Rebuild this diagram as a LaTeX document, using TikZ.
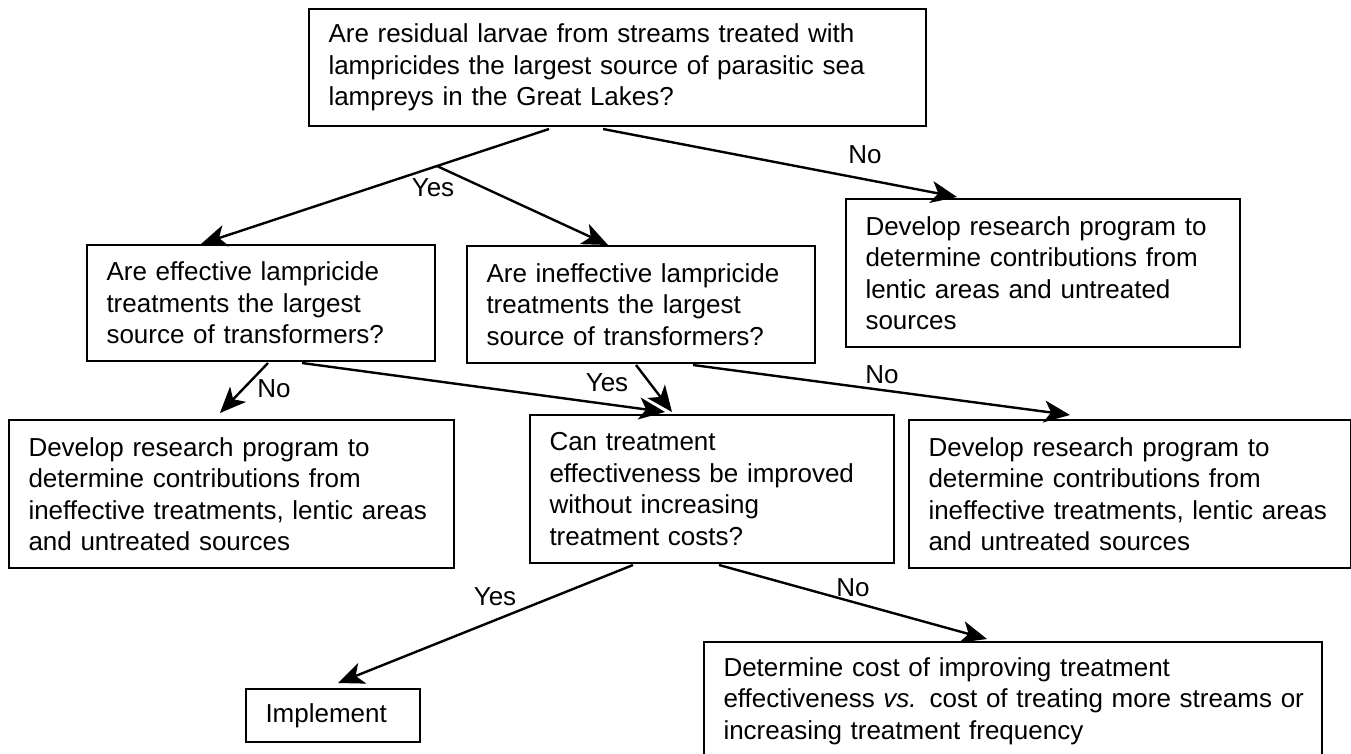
\documentclass[tikz,border=0pt]{standalone}
\usepackage{fontspec}
\setmainfont{Liberation Sans}
\usetikzlibrary{arrows.meta,calc}
\begin{document}
\begin{tikzpicture}[x=1pt,y=-1pt,
  box/.style={draw,line width=2pt,anchor=north west,inner xsep=19.5pt,inner ysep=0pt,
    align=left,font=\fontsize{26}{31.5}\selectfont},
  lbl/.style={font=\fontsize{26}{31.5}\selectfont,inner sep=0pt},
  arr/.style={line width=2.4pt,-{Stealth[length=26pt,width=22pt,inset=7pt]}}]
\useasboundingbox (0,0) rectangle (1351,754);
% boxes
\node[box,minimum width=617pt,minimum height=117pt,text width=578pt] (q1) at (308,8)
  {\mbox{Are residual larvae from streams treated with}\\
   \mbox{lampricides the largest source of parasitic sea}\\
   \mbox{lampreys in the Great Lakes?}};
\node[box,minimum width=394pt,minimum height=148pt,text width=355pt] (d1) at (845,198)
  {\mbox{Develop research program to}\\
   \mbox{determine contributions from}\\
   \mbox{lentic areas and untreated}\\
   \mbox{sources}};
\node[box,minimum width=348pt,minimum height=116pt,text width=309pt] (q2) at (86,244)
  {\mbox{Are effective lampricide}\\
   \mbox{treatments the largest}\\
   \mbox{source of transformers?}};
\node[box,minimum width=348pt,minimum height=117pt,text width=309pt] (q3) at (466,245)
  {\mbox{Are ineffective lampricide}\\
   \mbox{treatments the largest}\\
   \mbox{source of transformers?}};
\node[box,minimum width=445pt,minimum height=148pt,text width=406pt] (d2) at (8,419)
  {\mbox{Develop research program to}\\
   \mbox{determine contributions from}\\
   \mbox{ineffective treatments, lentic areas}\\
   \mbox{and untreated sources}};
\node[box,minimum width=364pt,minimum height=148pt,text width=325pt] (q4) at (529,414)
  {\mbox{Can treatment}\\
   \mbox{effectiveness be improved}\\
   \mbox{without increasing}\\
   \mbox{treatment costs?}};
\node[box,minimum width=442pt,minimum height=148pt,text width=403pt] (d3) at (908,419)
  {\mbox{Develop research program to}\\
   \mbox{determine contributions from}\\
   \mbox{ineffective treatments, lentic areas}\\
   \mbox{and untreated sources}};
\node[box,minimum width=174pt,minimum height=53pt,text width=135pt] (impl) at (245,688)
  {\mbox{Implement}};
\node[box,minimum width=618pt,minimum height=118pt,text width=579pt] (det) at (703,641)
  {\mbox{Determine cost of improving treatment}\\
   \mbox{effectiveness \textit{vs.} cost of treating more streams or}\\
   \mbox{increasing treatment frequency}};
% connectors
\coordinate (ys) at ([xshift=241pt,yshift=-2pt]q1.south west);
\coordinate (ye) at ([xshift=115pt]q2.north west);
\draw[arr] (ys) -- (ye);
\coordinate (br) at ($(ys)!0.322!(ye)$);
\draw[arr] (br) -- ([xshift=142pt]q3.north west);
\node[lbl] (l1) at (433,188) {Yes};
\draw[arr] ([xshift=295pt,yshift=-2pt]q1.south west) -- ([xshift=112pt,yshift=1pt]d1.north west);
\node[lbl] (l2) at (865,155) {No};
\draw[arr] ([xshift=182pt,yshift=-1pt]q2.south west) -- ([xshift=212pt,yshift=6pt]d2.north west);
\node[lbl] (l3) at (274,389) {No};
\draw[arr] ([xshift=216pt,yshift=-1pt]q2.south west) -- ([xshift=136pt,yshift=2pt]q4.north west);
\draw[arr] ([xshift=170pt,yshift=-1pt]q3.south west) -- ([xshift=143pt,yshift=2pt]q4.north west);
\node[lbl] (l4) at (607,383) {Yes};
\draw[arr] ([xshift=227pt,yshift=-1pt]q3.south west) -- ([xshift=162pt,yshift=4pt]d3.north west);
\node[lbl] (l5) at (882,375) {No};
\draw[arr] ([xshift=104pt,yshift=-1pt]q4.south west) -- ([xshift=93pt,yshift=5pt]impl.north west);
\node[lbl] (l6) at (495,597) {Yes};
\draw[arr] ([xshift=190pt,yshift=-1pt]q4.south west) -- ([xshift=284pt,yshift=2pt]det.north west);
\node[lbl] (l7) at (853,588) {No};
\end{tikzpicture}
\end{document}
